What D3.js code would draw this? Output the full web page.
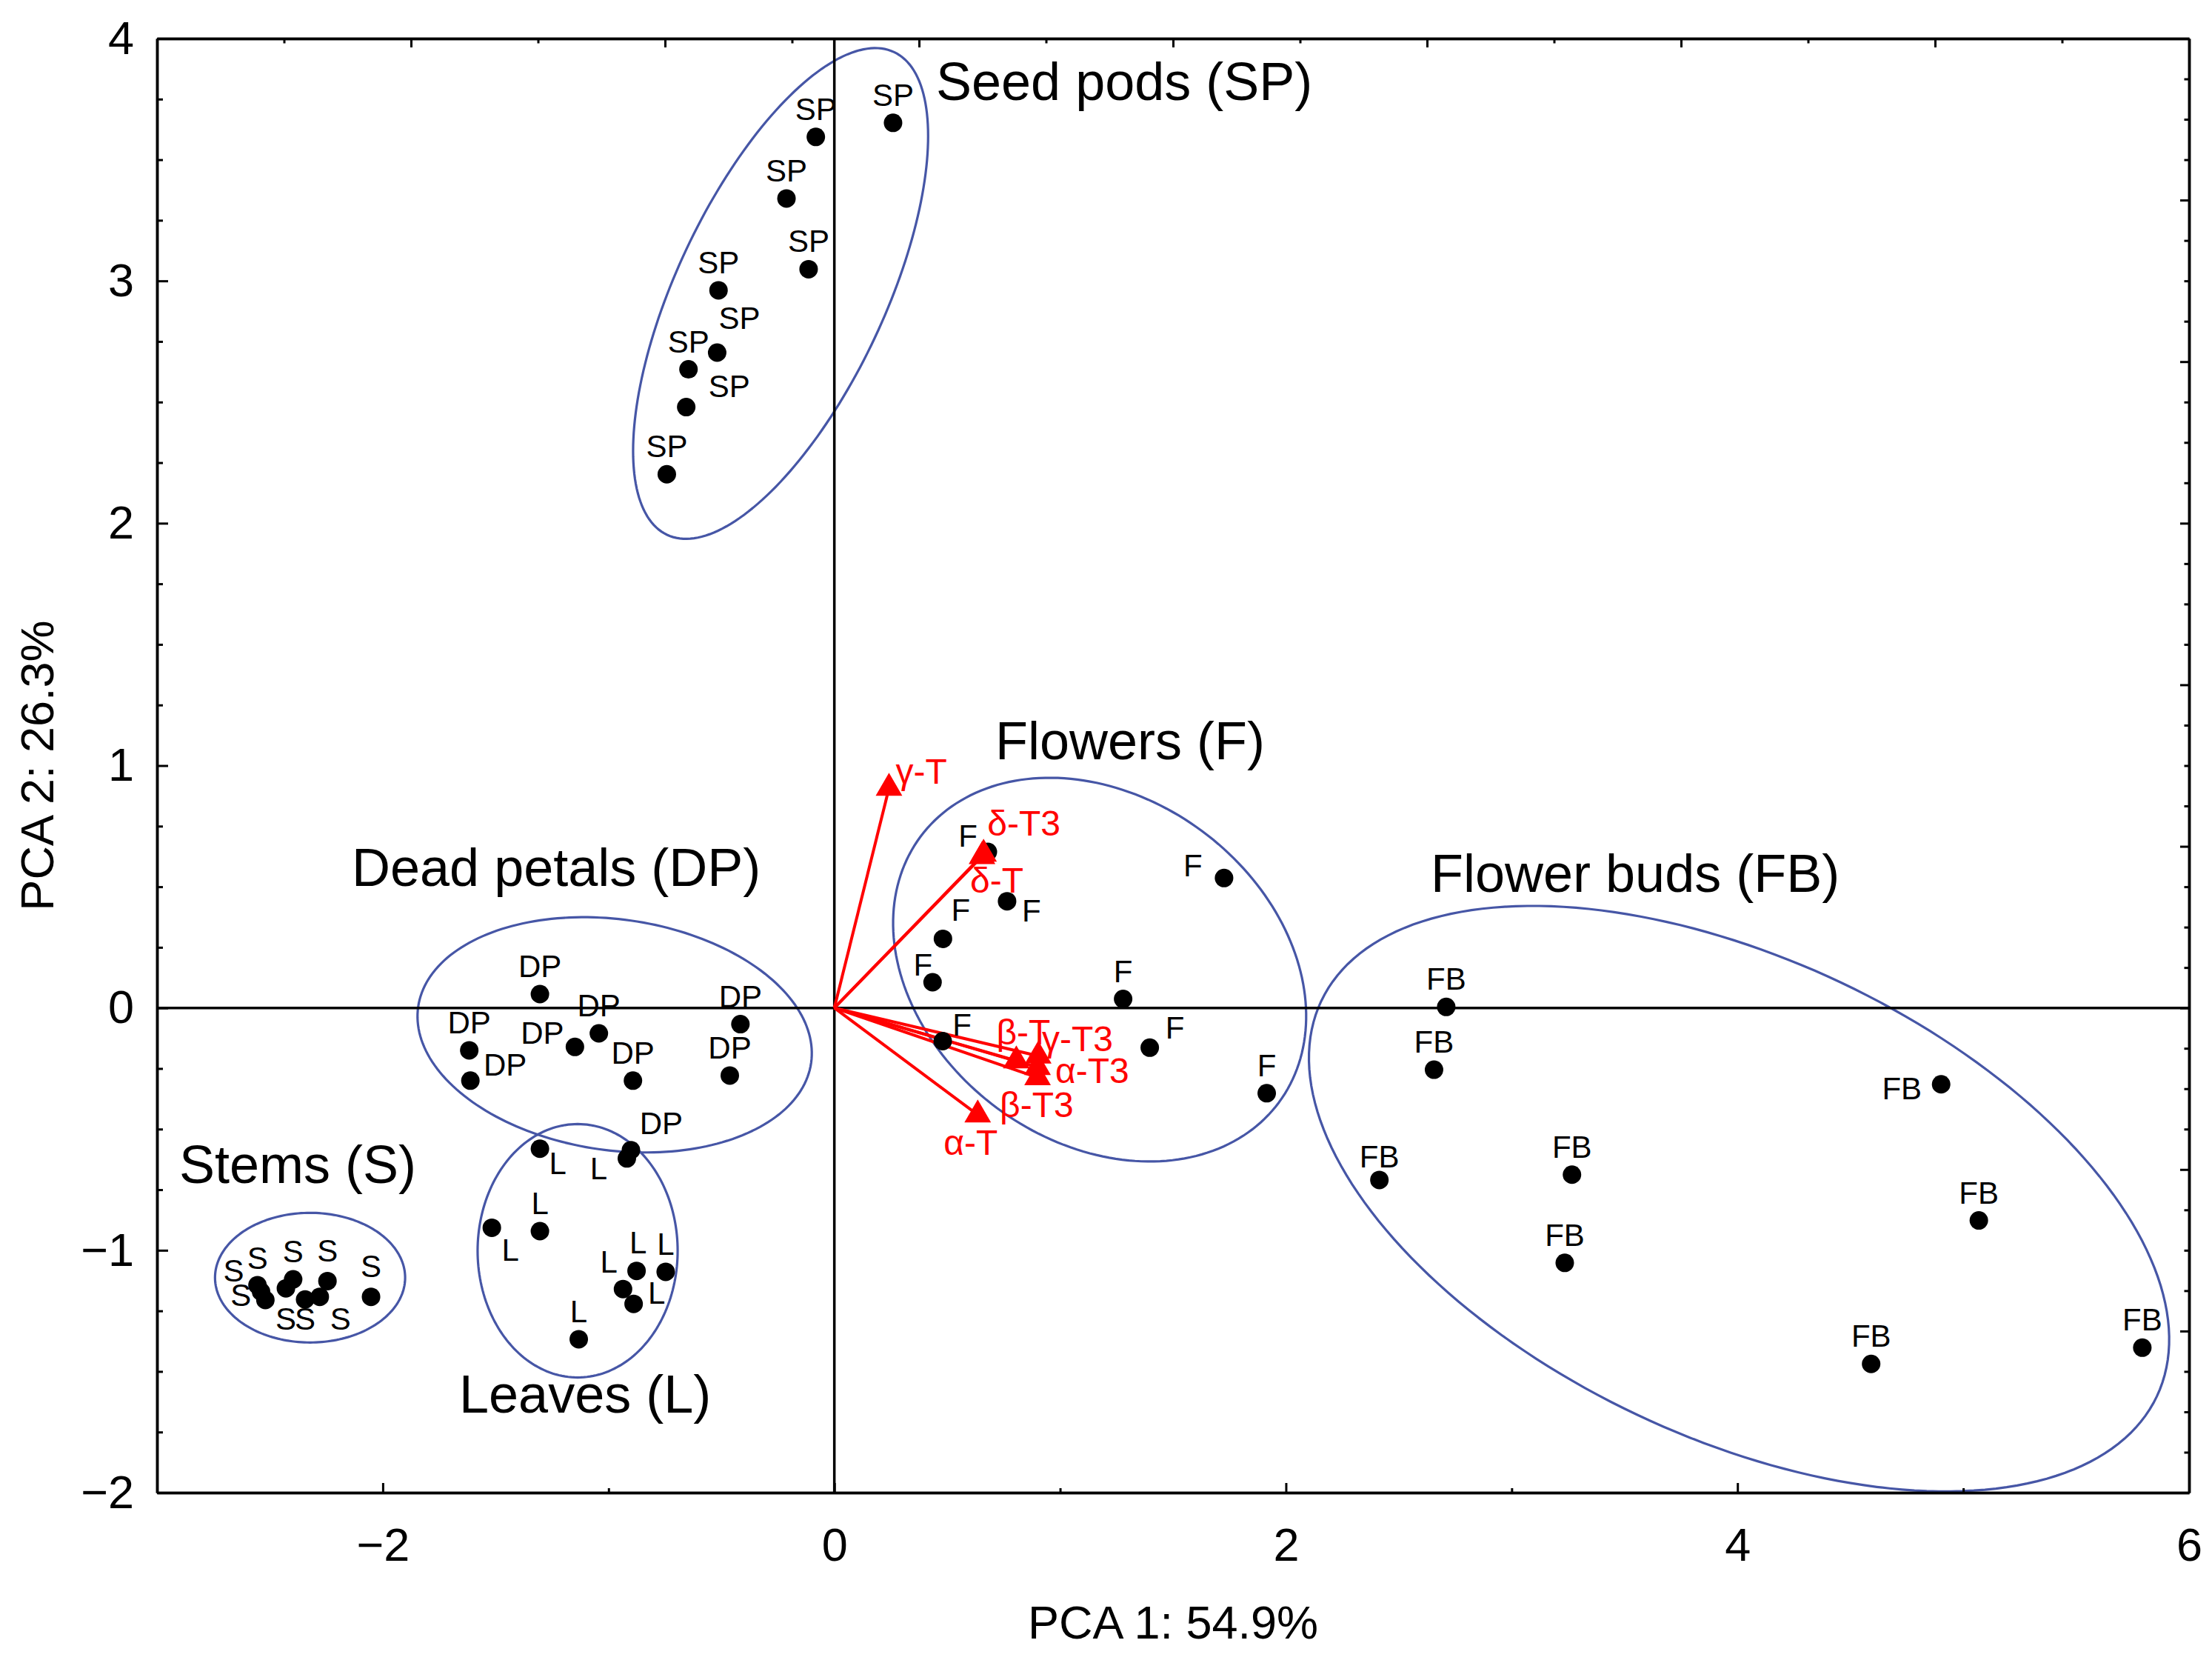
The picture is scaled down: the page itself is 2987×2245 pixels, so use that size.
<!DOCTYPE html>
<html>
<head>
<meta charset="utf-8">
<script src="https://cdn.jsdelivr.net/npm/d3@7"></script>
<style>
  body { margin: 0; background: #fff; }
  text { font-family: "Liberation Sans", Arial, sans-serif; }
</style>
</head>
<body>
<svg id="chart"></svg>
<script>
// sample scores [PCA 1, PCA 2]
const seedPods = [[0.260, 3.652], [-0.082, 3.594], [-0.212, 3.340], [-0.114, 3.048], [-0.513, 2.961],
                  [-0.519, 2.704], [-0.646, 2.635], [-0.656, 2.479], [-0.742, 2.202]];
const deadPetals = [[-1.304, 0.057], [-0.416, -0.067], [-1.617, -0.175], [-1.612, -0.300], [-1.149, -0.161],
                    [-1.043, -0.105], [-0.892, -0.300], [-0.463, -0.279], [-0.901, -0.587]];
const leaves = [[-1.304, -0.581], [-0.919, -0.621], [-1.517, -0.907], [-1.304, -0.921], [-0.876, -1.085],
                [-0.747, -1.089], [-0.936, -1.160], [-0.889, -1.221], [-1.132, -1.367]];
const stems = [[-2.555, -1.144], [-2.539, -1.171], [-2.520, -1.205], [-2.429, -1.157], [-2.397, -1.120],
               [-2.344, -1.203], [-2.279, -1.192], [-2.245, -1.127], [-2.052, -1.192]];
const flowers = [[0.680, 0.644], [0.765, 0.440], [0.481, 0.285], [0.435, 0.106], [1.279, 0.037],
                 [1.726, 0.536], [0.480, -0.137], [1.397, -0.164], [1.915, -0.352]];
const flowerBuds = [[2.710, 0.004], [2.656, -0.255], [2.414, -0.710], [3.267, -0.688], [3.235, -1.052],
                    [4.902, -0.315], [5.069, -0.877], [4.592, -1.469], [5.793, -1.402]];

// loadings (tocopherols / tocotrienols)
const loadingNames = ["γ-T", "δ-T", "δ-T3", "β-T", "γ-T3", "α-T3", "β-T3", "α-T"];
const loadingX = [0.242, 0.654, 0.661, 0.806, 0.903, 0.900, 0.900, 0.635];
const loadingY = [0.907, 0.625, 0.635, -0.218, -0.198, -0.245, -0.287, -0.441];

// group ellipses: centre, semi axes (PCA 1 units), tilt in degrees
const ellipseGroups = ["Seed pods (SP)", "Dead petals (DP)", "Stems (S)", "Leaves (L)", "Flowers (F)", "Flower buds (FB)"];
const ellipseCx = [-0.238, -0.973, -2.322, -1.137, 1.175, 4.007];
const ellipseCy = [2.948, -0.111, -1.113, -1.002, 0.158, -0.787];
const ellipseA = [1.181, 0.879, 0.421, 0.443, 0.988, 2.047];
const ellipseB = [0.461, 0.511, 0.287, 0.561, 0.763, 1.058];
const ellipseTilt = [-64.8, 8.1, 0, 0, 36.5, 25.3];

// tick values
const xMajor = [-2, 0, 2, 4, 6];
const xMinor = [-1, 1, 3, 5];
const yMajor = [-2, -1, 0, 1, 2, 3, 4];

// label placement (pixel offsets from the point), kept apart from the data
const n = [0, -23];
const groupLayout = [
  {pts: seedPods, tag: "SP", off: [n, n, n, n, n, [30, -32], n, [58, -14], n]},
  {pts: deadPetals, tag: "DP", off: [n, n, n, [47, -7], [-44, -4], n, n, n, [41, -22]]},
  {pts: leaves, tag: "L", off: [[24, 34], [-38, 28], [25, 45], n, [2, -24], n, [-19, -22], [31, 0], n]},
  {pts: stems, tag: "S", off: [[0, -22], [-37, -14], [-33, 8], [0, 56], n, [0, 41], [28, 44], [0, -26], [0, -27]]},
  {pts: flowers, tag: "F", off: [[-27, -7], [33, 27], [24, -24], [-13, -9], n, [-42, -2], [26, -7], [34, -12], n]},
  {pts: flowerBuds, tag: "FB", off: [n, n, [0, -17], n, n, [-53, 20], n, n, n]}
];
const loadingOff = [[9, -6], [-16, 49], [5, -25], [-27, -22], [5, -6], [24, 21], [-51, 53], [-46, 54]];
// big group titles: left x, baseline y (page px)
const titlePos = [[1264, 135], [475, 1196], [242, 1597], [620, 1907], [1344, 1025], [1932, 1204]];

const W = 2987, H = 2245;
const margin = {top: 52, right: 31, bottom: 230, left: 212};
const width = W - margin.left - margin.right;
const height = H - margin.top - margin.bottom;

const svgRoot = d3.select("#chart").attr("width", W).attr("height", H);
const svg = svgRoot.append("g")
  .attr("transform", "translate(" + margin.left + "," + margin.top + ")");

const x = d3.scaleLinear().domain([-3, 6]).range([0, width]);
const y = d3.scaleLinear().domain([-2, 4]).range([height, 0]);
const kx = x(1) - x(0);

// ellipses
const ellLine = d3.line().curve(d3.curveLinearClosed);
ellipseGroups.forEach(function(g, i) {
  const cx = x(ellipseCx[i]), cy = y(ellipseCy[i]);
  const th = ellipseTilt[i] * Math.PI / 180;
  const pts = d3.range(0, 200).map(function(k) {
    const t = k / 200 * 2 * Math.PI;
    const u = ellipseA[i] * kx * Math.cos(t), v = ellipseB[i] * kx * Math.sin(t);
    return [cx + u * Math.cos(th) - v * Math.sin(th), cy + u * Math.sin(th) + v * Math.cos(th)];
  });
  svg.append("path")
    .attr("d", ellLine(pts))
    .attr("fill", "none")
    .attr("stroke", "#4656a6")
    .attr("stroke-width", 3.2);
});

// zero lines
svg.append("line")
  .attr("x1", x(0)).attr("x2", x(0)).attr("y1", y(-2)).attr("y2", y(4))
  .attr("stroke", "black").attr("stroke-width", 3.5);
svg.append("line")
  .attr("x1", x(-3)).attr("x2", x(6)).attr("y1", y(0)).attr("y2", y(0))
  .attr("stroke", "black").attr("stroke-width", 3.5);

// loading vectors
svg.selectAll("loadLines")
  .data(loadingNames)
  .enter()
  .append("line")
  .attr("x1", x(0)).attr("y1", y(0))
  .attr("x2", function(d, i) { return x(loadingX[i]); })
  .attr("y2", function(d, i) { return y(loadingY[i]); })
  .attr("stroke", "#ff0000")
  .attr("stroke-width", 4);

// sample points and labels
groupLayout.forEach(function(g) {
  svg.selectAll("pts")
    .data(g.pts)
    .enter()
    .append("circle")
    .attr("cx", function(d) { return x(d[0]); })
    .attr("cy", function(d) { return y(d[1]); })
    .attr("r", 12.5)
    .attr("fill", "black");
  svg.selectAll("ptLabels")
    .data(g.pts)
    .enter()
    .append("text")
    .attr("x", function(d, i) { return x(d[0]) + g.off[i][0]; })
    .attr("y", function(d, i) { return y(d[1]) + g.off[i][1]; })
    .attr("text-anchor", "middle")
    .attr("font-size", 42)
    .text(g.tag);
});

// loading triangles and labels
svg.selectAll("loadTri")
  .data(loadingNames)
  .enter()
  .append("path")
  .attr("d", d3.symbol(d3.symbolTriangle, 560))
  .attr("transform", function(d, i) { return "translate(" + x(loadingX[i]) + "," + y(loadingY[i]) + ")"; })
  .attr("fill", "#ff0000");
svg.selectAll("loadLab")
  .data(loadingNames)
  .enter()
  .append("text")
  .attr("x", function(d, i) { return x(loadingX[i]) + loadingOff[i][0]; })
  .attr("y", function(d, i) { return y(loadingY[i]) + loadingOff[i][1]; })
  .attr("font-size", 48)
  .attr("fill", "#ff0000")
  .text(function(d) { return d; });

// group titles
svgRoot.selectAll("titles")
  .data(ellipseGroups)
  .enter()
  .append("text")
  .attr("x", function(d, i) { return titlePos[i][0]; })
  .attr("y", function(d, i) { return titlePos[i][1]; })
  .attr("font-size", 72)
  .text(function(d) { return d; });

// axes, ticks pointing inward
function styleAxis(g) {
  g.attr("font-size", 63).attr("font-family", "'Liberation Sans', Arial, sans-serif");
  g.selectAll("path").attr("stroke-width", 3.5);
  g.selectAll("line").attr("stroke-width", 3);
}
const fmt = d3.format("d");
svg.append("g")
  .attr("transform", "translate(0," + height + ")")
  .call(d3.axisBottom(x).tickValues(xMajor).tickFormat(fmt).tickSize(-13).tickSizeOuter(0).tickPadding(47))
  .call(styleAxis);
svg.append("g")
  .attr("transform", "translate(0," + height + ")")
  .call(d3.axisBottom(x).tickValues(xMinor).tickSize(-6).tickSizeOuter(0).tickFormat(""))
  .call(styleAxis);
svg.append("g")
  .call(d3.axisLeft(y).tickValues(yMajor).tickFormat(fmt).tickSize(-15).tickSizeOuter(0).tickPadding(31))
  .call(styleAxis);
svg.append("g")
  .call(d3.axisLeft(y).tickValues(d3.range(-2, 4.01, 0.25).filter(function(v) { return v % 1 !== 0; }))
    .tickSize(-8).tickSizeOuter(0).tickFormat(""))
  .call(styleAxis);

const topTicks = d3.range(1, 16).map(function(i) { return -3 + i * 0.5625; });
svg.append("g")
  .call(d3.axisTop(x).tickValues(topTicks.filter(function(v, i) { return i % 2 === 1; }))
    .tickSize(-12).tickSizeOuter(0).tickFormat(""))
  .call(styleAxis);
svg.append("g")
  .call(d3.axisTop(x).tickValues(topTicks.filter(function(v, i) { return i % 2 === 0; }))
    .tickSize(-6.5).tickSizeOuter(0).tickFormat(""))
  .call(styleAxis);

const rightTicks = d3.range(1, 36).map(function(i) { return -2 + i / 6; });
svg.append("g")
  .attr("transform", "translate(" + width + ",0)")
  .call(d3.axisRight(y).tickValues(rightTicks.filter(function(v, i) { return (i + 1) % 4 === 0; }))
    .tickSize(-12).tickSizeOuter(0).tickFormat(""))
  .call(styleAxis);
svg.append("g")
  .attr("transform", "translate(" + width + ",0)")
  .call(d3.axisRight(y).tickValues(rightTicks.filter(function(v, i) { return (i + 1) % 4 !== 0; }))
    .tickSize(-6.5).tickSizeOuter(0).tickFormat(""))
  .call(styleAxis);

// axis titles
svgRoot.append("text")
  .attr("x", margin.left + width / 2)
  .attr("y", 2212)
  .attr("text-anchor", "middle")
  .attr("font-size", 63)
  .text("PCA 1: 54.9%");
svgRoot.append("text")
  .attr("transform", "translate(72," + (margin.top + height / 2) + ") rotate(-90)")
  .attr("text-anchor", "middle")
  .attr("font-size", 63)
  .text("PCA 2: 26.3%");
</script>
</body>
</html>
